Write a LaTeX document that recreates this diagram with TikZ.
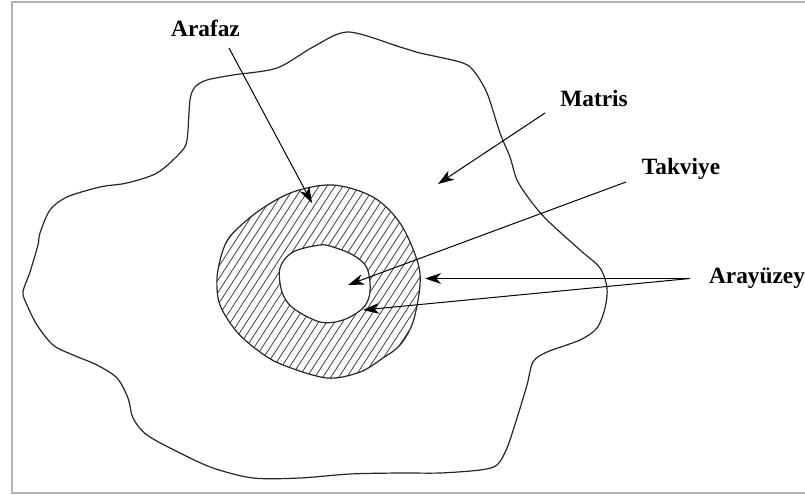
\documentclass[tikz,border=0pt]{standalone}
\usepackage{fontspec}
\setmainfont{Liberation Serif}
\usetikzlibrary{arrows.meta}
\tikzset{
  tag/.style={
    inner sep = 0pt,
    anchor = base,
    font=\fontsize{17.5}{20}\selectfont\bfseries
  },
  pointer/.style={
    line width = 0.75pt,
    -{Stealth[length=12pt,width=8pt,inset=3.5pt]}
  },
  boundary/.style={
    line width = 0.9pt,
    black!85
  },
  hatchline/.style={
    line width = 0.6pt,
    black!75
  }
}
\def\ringout{plot[smooth cycle, tension=0.55] coordinates {
  (333,185) (373,197) (400,223) (417,260) (420,285) (413,322) (400,345)
  (383,358) (360,372) (327,378) (283,365) (260,352) (237,332) (220,305)
  (217,278) (223,250) (233,233) (260,210) (293,192)}}
\def\ringin{plot[smooth cycle, tension=0.55] coordinates {
  (320,245) (333,247) (353,255) (367,268) (370,292) (363,308) (343,320)
  (320,322) (293,308) (282,292) (280,268) (293,252)}}

\begin{document}
\begin{tikzpicture}[x=0.75pt,y=-0.75pt]
  \useasboundingbox (0,0) rectangle (805,495);
  \draw[gray!60, line width=1.5pt] (807,2) -- (12,2) -- (12,493) -- (807,493);

  % matris
  \draw[boundary] plot[smooth cycle, tension=0.5] coordinates {
    (348,32) (400,47) (420,53) (460,62) (473,70) (487,93) (500,133)
    (510,157) (517,180) (530,200) (547,220) (580,250) (600,268) (607,288)
    (605,308) (597,328) (580,340) (547,352) (533,362) (527,385) (517,418)
    (507,448) (497,465) (480,470) (440,473) (400,473) (350,474) (300,478)
    (253,478) (213,468) (180,453) (147,435) (133,418) (128,398) (117,378)
    (97,365) (73,355) (53,345) (37,325) (27,305) (23,292) (30,272) (38,245)
    (40,233) (50,210) (67,197) (100,187) (127,183) (157,173) (180,153)
    (187,140) (190,100) (195,87) (207,80) (233,75) (277,68) (313,47)};

  % arafaz halkasi
  \begin{scope}[even odd rule]
    \clip \ringout \ringin;
    \foreach \x in {60,68,...,430}
      \draw[hatchline] (\x,400) -- ++(156,-240);
  \end{scope}
  \draw[boundary] \ringout;
  \draw[boundary] \ringin;

  \node[tag] (arafaz) at (205.5,37) {Arafaz};
  \node[tag] (matris) at (594,107) {Matris};
  \node[tag] (takviye) at (681,175) {Takviye};
  \node[tag] (arayuzey) at (757,283) {Arayüzey};

  \coordinate (arafazFrom) at (229,48);
  \coordinate (arafazTo) at (312,203);
  \coordinate (matrisFrom) at (545,113);
  \coordinate (matrisTo) at (438,184);
  \coordinate (takviyeFrom) at (626,182);
  \coordinate (takviyeTo) at (348,285);
  \coordinate (arayuzeyFrom) at (690,278.5);
  \coordinate (dis) at (425,278.5);
  \coordinate (ic) at (363,310);

  \draw[pointer] (arafazFrom) -- (arafazTo);
  \draw[pointer] (matrisFrom) -- (matrisTo);
  \draw[pointer] (takviyeFrom) -- (takviyeTo);
  \draw[pointer] (arayuzeyFrom) -- (dis);
  \draw[pointer] (arayuzeyFrom) -- (ic);
\end{tikzpicture}
\end{document}
